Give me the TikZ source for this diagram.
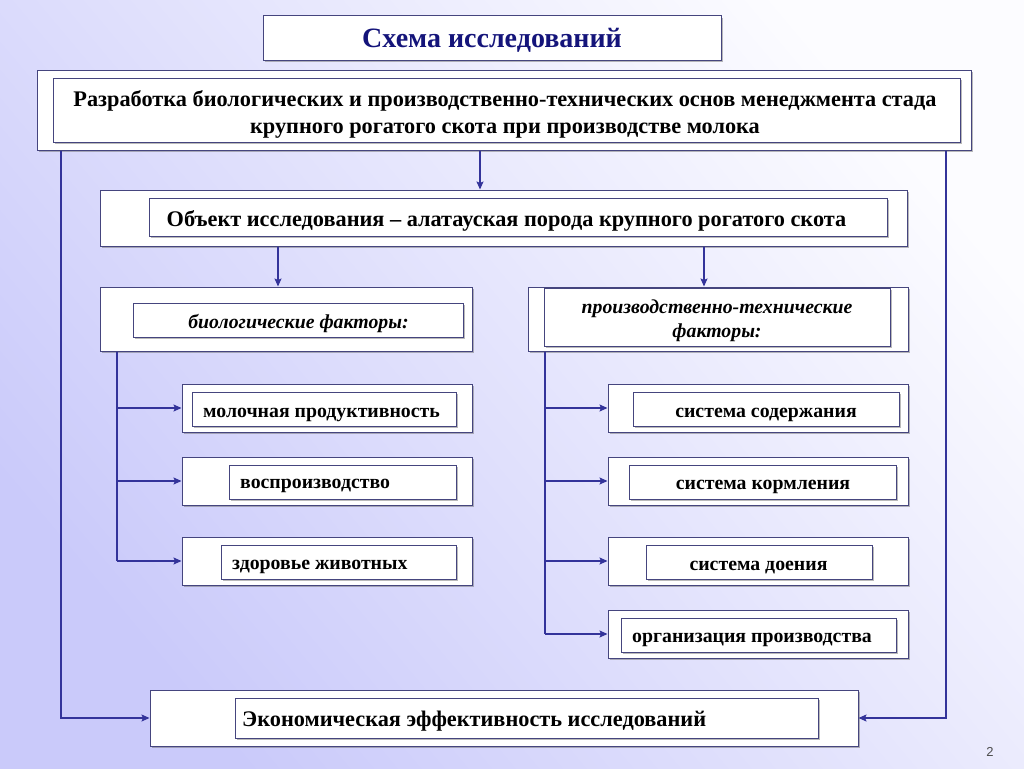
\documentclass[tikz,border=0pt]{standalone}
\usepackage{fontspec}
\setmainfont{Liberation Serif}
\newfontfamily\pagefont{Liberation Sans}
\usetikzlibrary{arrows.meta,shadows}
\definecolor{bglav}{HTML}{CACAFA}
\definecolor{bgwhite}{HTML}{FCFCFF}
\definecolor{boxline}{HTML}{45457E}
\definecolor{conn}{HTML}{33339A}
\definecolor{titlecol}{HTML}{14147A}
\tikzset{
  boxbase/.style={draw=boxline, line width=1pt, fill=white, inner sep=0pt,
    drop shadow={shadow xshift=1.6pt, shadow yshift=-1.8pt, opacity=0.45, fill=black!60}},
  outerbox/.style={boxbase},
  innerbox/.style={boxbase},
  txt/.style={inner sep=0pt, font=\bfseries},
  bigtxt/.style={txt, font=\bfseries\fontsize{22.3}{27}\selectfont},
  itemtxt/.style={txt, font=\bfseries\fontsize{19.8}{24}\selectfont},
  facttxt/.style={txt, font=\bfseries\itshape\fontsize{19.8}{24}\selectfont},
  conline/.style={draw=conn, line width=1.4pt},
  arr/.style={conline, -{Stealth[length=8pt,width=7pt,inset=1.5pt]}},
}
\begin{document}
\begin{tikzpicture}[x=1pt,y=-1pt]
\shade[shading=axis, top color=bgwhite, bottom color=bglav, shading angle=-50] (0,0) rectangle (1024,768);
\useasboundingbox (0,0) rectangle (1024,768);

% title
\node[outerbox, minimum width=458pt, minimum height=44pt] (title) at (492,38) {};
\node[txt, anchor=base, font=\bfseries\fontsize{28}{32}\selectfont, text=titlecol] (ttitle) at (492,48) {Схема исследований};

% top box
\node[outerbox, minimum width=934pt, minimum height=80pt] (b1o) at (504,110) {};
\node[innerbox, minimum width=907pt, minimum height=64pt] (b1i) at (506.5,110) {};
\node[bigtxt, anchor=base] (tb1a) at (505,106) {Разработка биологических и производственно-технических основ менеджмента стада};
\node[bigtxt, anchor=base] (tb1b) at (505,133) {крупного рогатого скота при производстве молока};

% object box
\node[outerbox, minimum width=807pt, minimum height=56pt] (b2o) at (503.5,218) {};
\node[innerbox, minimum width=738pt, minimum height=38pt] (b2i) at (518,217) {};
\node[bigtxt, anchor=base] (tb2) at (506.5,226) {Объект исследования – алатауская порода крупного рогатого скота};

% factor groups
\node[outerbox, minimum width=372pt, minimum height=64pt] (lo) at (286,319) {};
\node[innerbox, minimum width=330pt, minimum height=34pt] (li) at (298,320) {};
\node[facttxt, anchor=base] (tli) at (298.5,328) {биологические факторы:};
\node[outerbox, minimum width=380pt, minimum height=64pt] (ro) at (718,319) {};
\node[innerbox, minimum width=346pt, minimum height=58pt] (ri) at (717,317) {};
\node[facttxt, anchor=base] (tria) at (717,313) {производственно-технические};
\node[facttxt, anchor=base] (trib) at (717,337) {факторы:};

% left items
\node[outerbox, minimum width=290pt, minimum height=48pt] (l1o) at (327,408) {};
\node[innerbox, minimum width=264pt, minimum height=34pt] (l1i) at (324,409) {};
\node[itemtxt, anchor=base west] (tl1) at (203,417) {молочная продуктивность};
\node[outerbox, minimum width=290pt, minimum height=48pt] (l2o) at (327,481) {};
\node[innerbox, minimum width=227pt, minimum height=34pt] (l2i) at (342.5,482) {};
\node[itemtxt, anchor=base west] (tl2) at (240,488) {воспроизводство};
\node[outerbox, minimum width=290pt, minimum height=48pt] (l3o) at (327,561) {};
\node[innerbox, minimum width=235pt, minimum height=34pt] (l3i) at (338.5,562) {};
\node[itemtxt, anchor=base west] (tl3) at (232,569) {здоровье животных};

% right items
\node[outerbox, minimum width=300pt, minimum height=48pt] (r1o) at (758,408) {};
\node[innerbox, minimum width=266pt, minimum height=34pt] (r1i) at (766,409) {};
\node[itemtxt, anchor=base] (tr1) at (766,417) {система содержания};
\node[outerbox, minimum width=300pt, minimum height=48pt] (r2o) at (758,481) {};
\node[innerbox, minimum width=267pt, minimum height=34pt] (r2i) at (762.5,482) {};
\node[itemtxt, anchor=base] (tr2) at (763,489) {система кормления};
\node[outerbox, minimum width=300pt, minimum height=48pt] (r3o) at (758,561) {};
\node[innerbox, minimum width=226pt, minimum height=34pt] (r3i) at (759,562) {};
\node[itemtxt, anchor=base] (tr3) at (758.5,570) {система доения};
\node[outerbox, minimum width=300pt, minimum height=48pt] (r4o) at (758,634) {};
\node[innerbox, minimum width=275pt, minimum height=34pt] (r4i) at (758.5,635) {};
\node[itemtxt, anchor=base west] (tr4) at (632,642) {организация производства};

% bottom
\node[outerbox, minimum width=708pt, minimum height=56pt] (bo) at (504,718) {};
\node[innerbox, minimum width=583pt, minimum height=40pt] (bi) at (526.5,718) {};
\node[bigtxt, anchor=base west] (tbi) at (242,726) {Экономическая эффективность исследований};

% page number
\node[font=\pagefont\fontsize{13}{15}\selectfont, text=black!70] (pg) at (990,752) {2};

% connector columns
\coordinate (cA) at (480,0);
\coordinate (cB) at (278,0);
\coordinate (cC) at (704,0);
\coordinate (cL) at (117,0);
\coordinate (cR) at (545,0);
\coordinate (cW) at (61,0);
\coordinate (cE) at (946,0);

\draw[arr] (b1o.south -| cA) -- (b2o.north -| cA);
\draw[arr] (b2o.south -| cB) -- (lo.north -| cB);
\draw[arr] (b2o.south -| cC) -- (ro.north -| cC);

\draw[conline] (lo.south -| cL) -- (l3o.west -| cL);
\draw[arr] (l1o.west -| cL) -- (l1o.west);
\draw[arr] (l2o.west -| cL) -- (l2o.west);
\draw[arr] (l3o.west -| cL) -- (l3o.west);

\draw[conline] (ro.south -| cR) -- (r4o.west -| cR);
\draw[arr] (r1o.west -| cR) -- (r1o.west);
\draw[arr] (r2o.west -| cR) -- (r2o.west);
\draw[arr] (r3o.west -| cR) -- (r3o.west);
\draw[arr] (r4o.west -| cR) -- (r4o.west);

\draw[arr] (b1o.south -| cW) -- (bo.west -| cW) -- (bo.west);
\draw[arr] (b1o.south -| cE) -- (bo.east -| cE) -- (bo.east);
\end{tikzpicture}
\end{document}
